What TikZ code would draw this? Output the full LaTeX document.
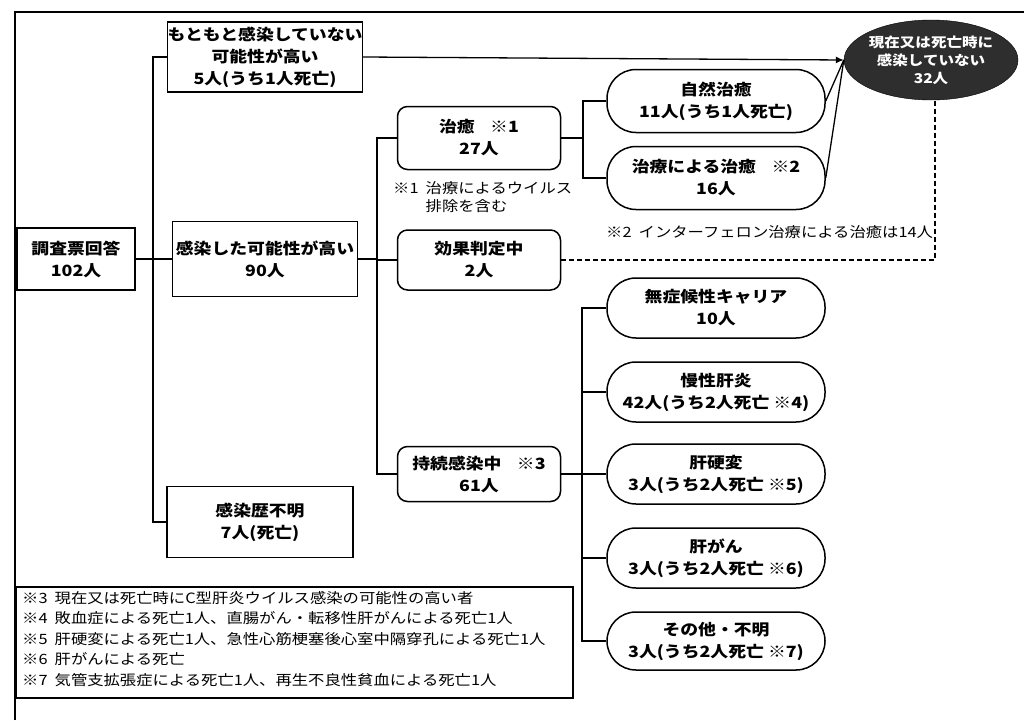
\documentclass[tikz,border=0pt]{standalone}
\usepackage{fontspec}
\setmainfont{Noto Sans CJK JP}[FakeStretch=1.15]
\usetikzlibrary{arrows.meta,shapes.geometric}
\tikzset{
 box/.style={draw, line width=1.5pt, align=center, font=\bfseries\fontsize{15.5}{22}\selectfont, inner sep=0pt},
 rbox/.style={box, rounded corners=10pt},
 pill/.style={box, rounded corners=29pt, minimum width=218pt},
 conn/.style={line width=1.3pt},
 note/.style={font=\fontsize{14.2}{18}\selectfont, anchor=west, inner sep=0pt},
 goalnode/.style={ellipse, fill=black!82, draw=black, inner sep=0pt, minimum width=174pt, minimum height=80pt},
 goaltext/.style={text=white, align=center, font=\bfseries\fontsize{13.5}{18}\selectfont, inner sep=0pt},
}
\begin{document}
\begin{tikzpicture}[x=1pt,y=-1pt]
\useasboundingbox (0,0) rectangle (1024,720);
% frame
\draw[conn] (15,720) -- (15,12) -- (1024,12);
% nodes
\node[box, minimum width=186pt, minimum height=70pt] (top) at (265,57) {もともと感染していない\\可能性が高い\\5人(うち1人死亡)};
\node[box, minimum width=118pt, minimum height=62pt] (q) at (76,259) {調査票回答\\102人};
\node[box, minimum width=185pt, minimum height=75pt] (inf) at (265,259) {感染した可能性が高い\\90人};
\node[box, minimum width=186pt, minimum height=71pt] (unk) at (260,522) {感染歴不明\\7人(死亡)};
\node[rbox, minimum width=163pt, minimum height=63pt] (cure) at (479,138) {治癒\quad ※1\\27人};
\node[rbox, minimum width=163pt, minimum height=60pt] (eff) at (479,260) {効果判定中\\2人};
\node[rbox, minimum width=163pt, minimum height=55pt] (pers) at (479,474) {持続感染中\quad ※3\\61人};
\node[pill, minimum height=63pt] (nat) at (716,101) {自然治癒\\11人(うち1人死亡)};
\node[pill, minimum height=63pt] (trt) at (716,178) {治療による治癒\quad ※2\\16人};
\node[pill, minimum height=60pt] (car) at (716,308) {無症候性キャリア\\10人};
\node[pill, minimum height=60pt] (chr) at (716,392) {慢性肝炎\\42人(うち2人死亡 ※4)};
\node[pill, minimum height=60pt] (cir) at (716,474) {肝硬変\\3人(うち2人死亡 ※5)};
\node[pill, minimum height=60pt] (can) at (716,558) {肝がん\\3人(うち2人死亡 ※6)};
\node[pill, minimum height=58pt] (oth) at (716,641) {その他・不明\\3人(うち2人死亡 ※7)};
\node[goalnode] (goal) at (931,60) {};
\node[goaltext] (goaltxt) at (goal.center) {現在又は死亡時に\\感染していない\\32人};
% inline notes
\node[note, anchor=north west, align=left] (n1) at (393,181) {※1\enspace 治療によるウイルス\\\phantom{※1\enspace }排除を含む};
\node[note] (n2) at (606,232) {※2\enspace インターフェロン治療による治癒は14人};
% connectors
\coordinate (j1) at (153,0);
\coordinate (j2) at (377,0);
\coordinate (j3) at (583,0);
\coordinate (j4) at (582,0);
\draw[conn] (top.west) -- (top.west -| j1) -- (unk.west -| j1) -- (unk.west);
\draw[conn] (q.east) -- (inf.west);
\draw[conn] (cure.west) -- (cure.west -| j2) -- (pers.west -| j2) -- (pers.west);
\draw[conn] (inf.east) -- (inf.east -| j2);
\draw[conn] (eff.west) -- (eff.west -| j2);
\draw[conn] (nat.west) -- (nat.west -| j3) -- (trt.west -| j3) -- (trt.west);
\draw[conn] (cure.east) -- (cure.east -| j3);
\draw[conn] (car.west) -- (car.west -| j4) -- (oth.west -| j4) -- (oth.west);
\draw[conn] (chr.west) -- (chr.west -| j4);
\draw[conn] (can.west) -- (can.west -| j4);
\draw[conn] (pers.east) -- (cir.west);
\draw[conn, -{Latex[length=8pt,width=7pt]}] (top.east) -- (goal.west);
\draw[conn] (nat.east) -- (goal.west);
\draw[conn] (trt.east) -- (goal.west);
\draw[conn, dashed, dash pattern=on 5pt off 3pt] (eff.east) -- (eff.east -| 935,0) coordinate (dc) -- (dc |- goal.south);
% bottom notes
\node[draw, line width=1.5pt, minimum width=557pt, minimum height=111pt, inner sep=0pt, anchor=north west] (nbox) at (15,586) {};
\node[note] (m3) at ([xshift=7pt,yshift=-12pt]nbox.north west) {※3\enspace 現在又は死亡時にC型肝炎ウイルス感染の可能性の高い者};
\node[note] (m4) at ([yshift=-20.5pt]m3.west) {※4\enspace 敗血症による死亡1人、直腸がん・転移性肝がんによる死亡1人};
\node[note] (m5) at ([yshift=-20.5pt]m4.west) {※5\enspace 肝硬変による死亡1人、急性心筋梗塞後心室中隔穿孔による死亡1人};
\node[note] (m6) at ([yshift=-20.5pt]m5.west) {※6\enspace 肝がんによる死亡};
\node[note] (m7) at ([yshift=-20.5pt]m6.west) {※7\enspace 気管支拡張症による死亡1人、再生不良性貧血による死亡1人};
\end{tikzpicture}
\end{document}
